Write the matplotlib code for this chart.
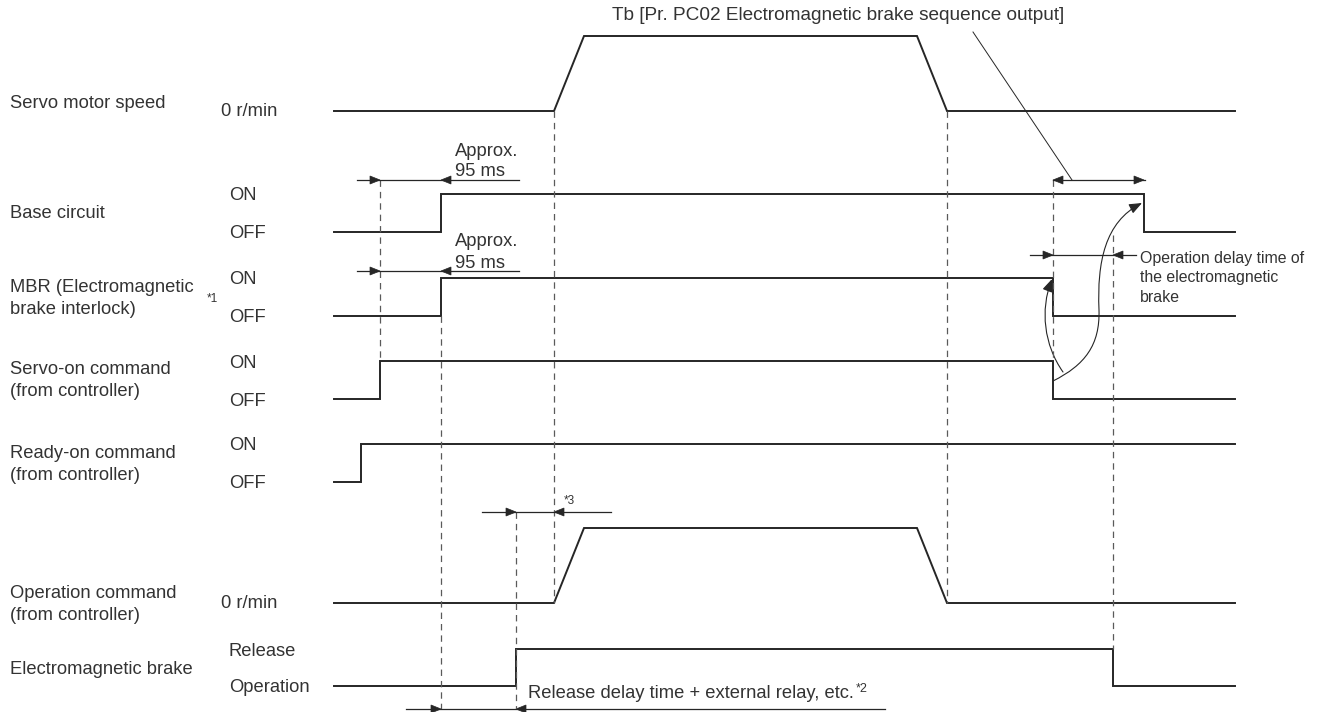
import matplotlib
matplotlib.use("Agg")
import matplotlib.pyplot as plt
from matplotlib.path import Path
from matplotlib.patches import FancyArrowPatch, Polygon

plt.rcParams['font.family'] = ['Liberation Sans', 'DejaVu Sans']
plt.rcParams['lines.scale_dashes'] = False

# ---------------- data (time axis in drawing units) ----------------
x_start, x_end = 334, 1235
t_ready_on = 361
t_servo_on = 380
t_base_on = 441
t_brake_release = 516
t_accel_start, t_accel_end = 554, 584
t_decel_start, t_decel_end = 917, 947
t_servo_off = 1053
t_brake_engage = 1113
t_base_off = 1144

speed_t = [x_start, t_accel_start, t_accel_end, t_decel_start, t_decel_end, x_end]
speed_v = [0, 0, 1, 1, 0, 0]
opcmd_t = [x_start, t_accel_start, t_accel_end, t_decel_start, t_decel_end, x_end]
opcmd_v = [0, 0, 1, 1, 0, 0]
base_t = [x_start, t_base_on, t_base_off, x_end]
base_v = [0, 1, 0, 0]
mbr_t = [x_start, t_base_on, t_servo_off, x_end]
mbr_v = [0, 1, 0, 0]
servo_t = [x_start, t_servo_on, t_servo_off, x_end]
servo_v = [0, 1, 0, 0]
ready_t = [x_start, t_ready_on, x_end]
ready_v = [0, 1, 1]
brake_t = [x_start, t_brake_release, t_brake_engage, x_end]
brake_v = [0, 1, 0, 0]

signal_labels = ["Servo motor speed", "Base circuit",
                 "MBR (Electromagnetic\nbrake interlock)",
                 "Servo-on command\n(from controller)",
                 "Ready-on command\n(from controller)",
                 "Operation command\n(from controller)",
                 "Electromagnetic brake"]
state_hi = [None, "ON", "ON", "ON", "ON", None, "Release"]
state_lo = ["0 r/min", "OFF", "OFF", "OFF", "OFF", "0 r/min", "Operation"]

# ---------------- figure ----------------
W, H = 1319, 712
fig = plt.figure(figsize=(W / 100, H / 100), dpi=100)
ax = fig.add_axes([0, 0, 1, 1])
ax.set_xlim(0, W)
ax.set_ylim(H, 0)
ax.axis('off')

LC = '#262626'
TC = '#333333'
FS = 13.2
LW = 1.4

# lane layout: (low y, height)
lanes = [(111, 75), (232, 38), (316, 38), (399, 38), (482, 38), (603, 75), (686, 37)]
label_y = [103, 213, (287, 310), (369, 392), (453, 476), (593, 616), 669]


def ymap(lane, v):
    lo, h = lanes[lane]
    return lo - v * h


def draw_trap(lane, t, v):
    ax.plot(t, [ymap(lane, x) for x in v], color=LC, lw=LW, solid_joinstyle='miter')


def draw_step(lane, t, v):
    ax.step(t, [ymap(lane, x) for x in v], where='post', color=LC, lw=LW,
            solid_joinstyle='miter')


draw_trap(0, speed_t, speed_v)
draw_step(1, base_t, base_v)
draw_step(2, mbr_t, mbr_v)
draw_step(3, servo_t, servo_v)
draw_step(4, ready_t, ready_v)
draw_trap(5, opcmd_t, opcmd_v)
draw_step(6, brake_t, brake_v)

# labels
for i, lab in enumerate(signal_labels):
    ly = label_y[i]
    if isinstance(ly, tuple):
        for k, line in enumerate(lab.split("\n")):
            ax.text(10, ly[k], line, fontsize=FS, color=TC, va='center', ha='left')
    else:
        ax.text(10, ly, lab, fontsize=FS, color=TC, va='center', ha='left')
    lo, h = lanes[i]
    if state_hi[i] is None:
        ax.text(221, lo + 1, state_lo[i], fontsize=FS, color=TC, va='center', ha='left')
    else:
        ax.text(229, lo - h + 2, state_hi[i], fontsize=FS, color=TC, va='center', ha='left')
        ax.text(229, lo + 2, state_lo[i], fontsize=FS, color=TC, va='center', ha='left')

ax.text(207, 299, "*1", fontsize=8.5, color=TC, va='center', ha='left')

# dashed guide lines
DC = '#5a5a5a'
dashed = [(t_servo_on, 180, 361), (t_base_on, 316, 709), (t_brake_release, 512, 709),
          (t_accel_start, 111, 603), (t_decel_end, 111, 603),
          (t_servo_off, 180, 361), (t_brake_engage, 235, 649)]
for x, y0, y1 in dashed:
    ax.plot([x, x], [y0, y1], color=DC, lw=0.9, linestyle=(0, (4.6, 3.6)))


def head(x, y, direction):
    L, hw = 10, 4
    pts = [(x, y), (x - direction * L, y - hw), (x - direction * L, y + hw)]
    ax.add_patch(Polygon(pts, closed=True, facecolor=LC, edgecolor=LC, lw=0.5))


def dim(y, x0, x1, heads):
    ax.plot([x0, x1], [y, y], color=LC, lw=0.9)
    for hx, d in heads:
        head(hx, y, d)


# dimension arrows
dim(180, 357, 519, [(t_servo_on, 1), (t_base_on, -1)])
dim(271, 357, 519, [(t_servo_on, 1), (t_base_on, -1)])
dim(180, t_servo_off, t_base_off + 1, [(t_servo_off, -1), (t_base_off, 1)])
dim(255, 1030, 1136, [(t_servo_off, 1), (t_brake_engage, -1)])
dim(512, 482, 611, [(t_brake_release, 1), (t_accel_start, -1)])
dim(709, 406, 885, [(t_base_on, 1), (t_brake_release, -1)])

# texts
for yy in (151, 242):
    ax.text(455, yy, "Approx.", fontsize=FS, color=TC, va='center', ha='left')
    ax.text(455, yy + 21, "95 ms", fontsize=FS, color=TC, va='center', ha='left')

ax.text(612, 16, "Tb [Pr. PC02 Electromagnetic brake sequence output]",
        fontsize=13.7, color=TC, va='center', ha='left')
ax.plot([973, 1072], [32, 180], color=LC, lw=0.7)

for k, line in enumerate(["Operation delay time of", "the electromagnetic", "brake"]):
    ax.text(1140, 258 + k * 19.5, line, fontsize=11.4, color=TC, va='center', ha='left')

ax.text(564, 501, "*3", fontsize=8.5, color=TC, va='center', ha='left')

t2 = ax.text(528, 693, "Release delay time + external relay, etc.", fontsize=FS,
             color=TC, va='center', ha='left')
ax.annotate("*2", xy=(1, 1), xycoords=t2, xytext=(1.5, 1), textcoords='offset points',
            fontsize=9, color=TC, va='top', ha='left')

# curved causal arrows
pathA = Path([(1063, 372), (1044, 345), (1040, 310), (1052, 279)],
             [Path.MOVETO, Path.CURVE4, Path.CURVE4, Path.CURVE4])
pathB = Path([(1053, 381), (1085, 365), (1100, 345), (1099, 310),
              (1097, 262), (1105, 222), (1142, 203)],
             [Path.MOVETO, Path.CURVE4, Path.CURVE4, Path.CURVE4,
              Path.CURVE4, Path.CURVE4, Path.CURVE4])
for p in (pathA, pathB):
    ax.add_patch(FancyArrowPatch(path=p, arrowstyle='-|>,head_length=0.55,head_width=0.22',
                                 mutation_scale=14, color=LC, lw=0.8))

fig.savefig("out.png", dpi=100)
